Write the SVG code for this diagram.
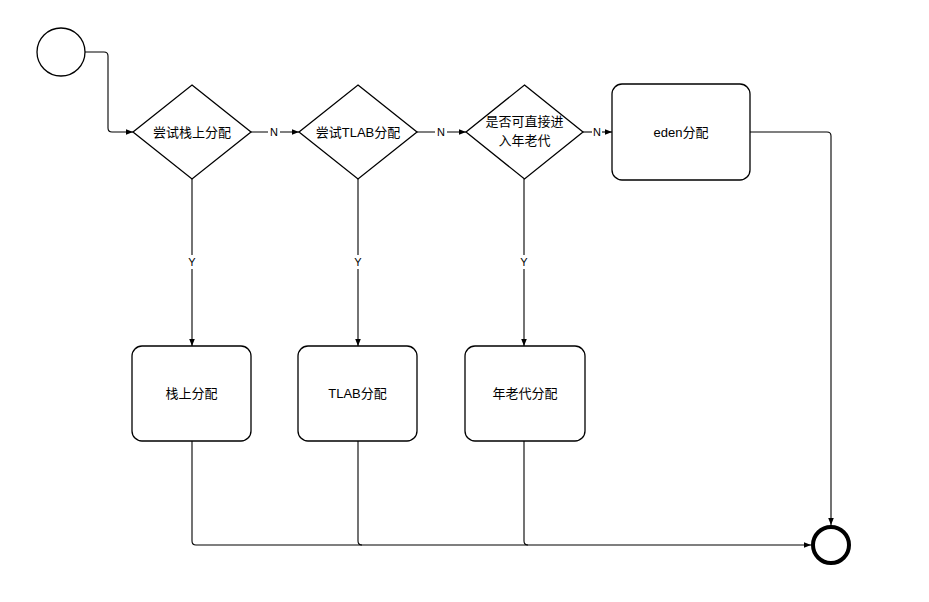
<svg xmlns="http://www.w3.org/2000/svg" width="929" height="602" viewBox="0 0 929 602">
<defs>
<marker id="arr" viewBox="0 0 10 10" refX="10" refY="5" markerWidth="7" markerHeight="7" markerUnits="userSpaceOnUse" orient="auto">
<path d="M0,1 L10,5 L0,9 Z" fill="#000"/>
</marker>
</defs>
<style>
.shape{fill:#fff;stroke:#000;stroke-width:1.3}
.edge{fill:none;stroke:#000;stroke-width:1.1}
.t{font-family:"Liberation Sans","Noto Sans CJK SC",sans-serif;font-size:13px;fill:#000;text-anchor:middle;dominant-baseline:central}
.lbl{font-family:"Liberation Sans","Noto Sans CJK SC",sans-serif;font-size:11px;fill:#000;text-anchor:middle;dominant-baseline:central}
</style>
<rect width="929" height="602" fill="#fff"/>
<g id="connectors">
<path class="edge" d="M85,52 H104 Q108,52 108,56 V128 Q108,132 112,132 H133" marker-end="url(#arr)"/>
<path class="edge" d="M251,132 H299" marker-end="url(#arr)"/>
<path class="edge" d="M417,132 H466" marker-end="url(#arr)"/>
<path class="edge" d="M583,132 H612" marker-end="url(#arr)"/>
<path class="edge" d="M192,179 V346" marker-end="url(#arr)"/>
<path class="edge" d="M358,179 V346" marker-end="url(#arr)"/>
<path class="edge" d="M524,179 V346" marker-end="url(#arr)"/>
<path class="edge" d="M750,132 H827 Q831,132 831,136 V525" marker-end="url(#arr)"/>
<path class="edge" d="M192,441 V541 Q192,545 196,545 H811" marker-end="url(#arr)"/>
<path class="edge" d="M358,441 V541 Q358,545 362,545"/>
<path class="edge" d="M524,441 V541 Q524,545 528,545"/>
<rect x="268" y="125" width="12" height="14" fill="#fff"/>
<text class="lbl" x="274" y="132">N</text>
<rect x="435" y="125" width="12" height="14" fill="#fff"/>
<text class="lbl" x="441" y="132">N</text>
<rect x="592" y="125" width="10" height="14" fill="#fff"/>
<text class="lbl" x="597" y="132">N</text>
<rect x="186" y="255" width="12" height="14" fill="#fff"/>
<text class="lbl" x="192" y="262">Y</text>
<rect x="352" y="255" width="12" height="14" fill="#fff"/>
<text class="lbl" x="358" y="262">Y</text>
<rect x="518" y="255" width="12" height="14" fill="#fff"/>
<text class="lbl" x="524" y="262">Y</text>
</g>
<g id="start"><circle class="shape" cx="61" cy="52" r="24"/></g>
<g id="d1"><polygon class="shape" points="192,85 251,132 192,179 133,132"/><text class="t" x="192" y="132">尝试栈上分配</text></g>
<g id="d2"><polygon class="shape" points="358,85 417,132 358,179 299,132"/><text class="t" x="358" y="132">尝试TLAB分配</text></g>
<g id="d3"><polygon class="shape" points="524.5,85 583,132 524.5,179 466,132"/><text class="t" x="524.5" y="121">是否可直接进</text><text class="t" x="524.5" y="140">入年老代</text></g>
<g id="eden"><rect class="shape" x="612" y="84" width="138" height="96" rx="10"/><text class="t" x="681" y="132">eden分配</text></g>
<g id="b1"><rect class="shape" x="132" y="346" width="119" height="95" rx="10"/><text class="t" x="191.5" y="393.5">栈上分配</text></g>
<g id="b2"><rect class="shape" x="298" y="346" width="119" height="95" rx="10"/><text class="t" x="357.5" y="393.5">TLAB分配</text></g>
<g id="b3"><rect class="shape" x="465" y="346" width="120" height="95" rx="10"/><text class="t" x="525" y="393.5">年老代分配</text></g>
<g id="end"><circle cx="831" cy="545" r="18" fill="#fff" stroke="#000" stroke-width="4"/></g>
</svg>
